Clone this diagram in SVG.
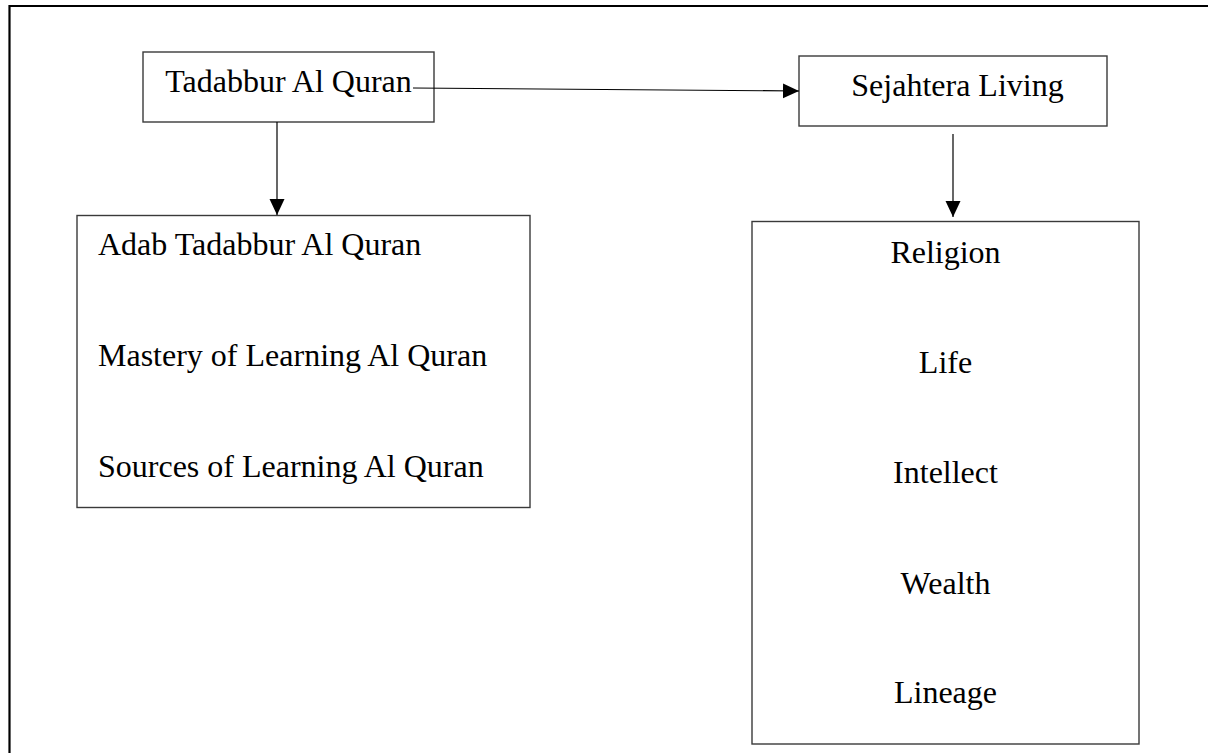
<svg xmlns="http://www.w3.org/2000/svg" width="1208" height="753" viewBox="0 0 1208 753">
<style>
.box{fill:#fff;stroke:#3a3a3a;stroke-width:1.4}
.t{font-family:"Liberation Serif","Times New Roman",serif;font-size:32px;fill:#000}
.c{text-anchor:middle}
.con{stroke:#000;stroke-width:1.2;fill:none}
</style>
<defs>
<marker id="ah" markerUnits="userSpaceOnUse" markerWidth="16" markerHeight="16" refX="16" refY="8" orient="auto">
<path d="M0,0.5 L16,8 L0,15.5 z" fill="#000"/>
</marker>
</defs>
<rect x="0" y="0" width="1208" height="753" fill="#fff"/>
<path d="M9.5,760 L9.5,6 L1210,6" fill="none" stroke="#000" stroke-width="2.2"/>
<g id="node-tadabbur">
<rect class="box" x="143" y="52" width="291" height="70"/>
<text class="t c" x="288.5" y="92">Tadabbur Al Quran</text>
</g>
<g id="node-sejahtera">
<rect class="box" x="799" y="56" width="308" height="70"/>
<text class="t c" x="957.5" y="96">Sejahtera Living</text>
</g>
<g id="node-adab">
<rect class="box" x="77" y="215.5" width="453" height="292"/>
<text class="t" x="98" y="255">Adab Tadabbur Al Quran</text>
<text class="t" x="98" y="366">Mastery of Learning Al Quran</text>
<text class="t" x="98" y="477">Sources of Learning Al Quran</text>
</g>
<g id="node-maqasid">
<rect class="box" x="752" y="221.5" width="387" height="522.5"/>
<text class="t c" x="945.5" y="263">Religion</text>
<text class="t c" x="945.5" y="373">Life</text>
<text class="t c" x="945.5" y="483">Intellect</text>
<text class="t c" x="945.5" y="594">Wealth</text>
<text class="t c" x="945.5" y="703">Lineage</text>
</g>
<g id="connectors">
<line class="con" x1="413" y1="88" x2="799" y2="91" marker-end="url(#ah)"/>
<line class="con" x1="277" y1="122" x2="277" y2="215" marker-end="url(#ah)"/>
<line class="con" x1="953" y1="134" x2="953" y2="217" marker-end="url(#ah)"/>
</g>
</svg>
